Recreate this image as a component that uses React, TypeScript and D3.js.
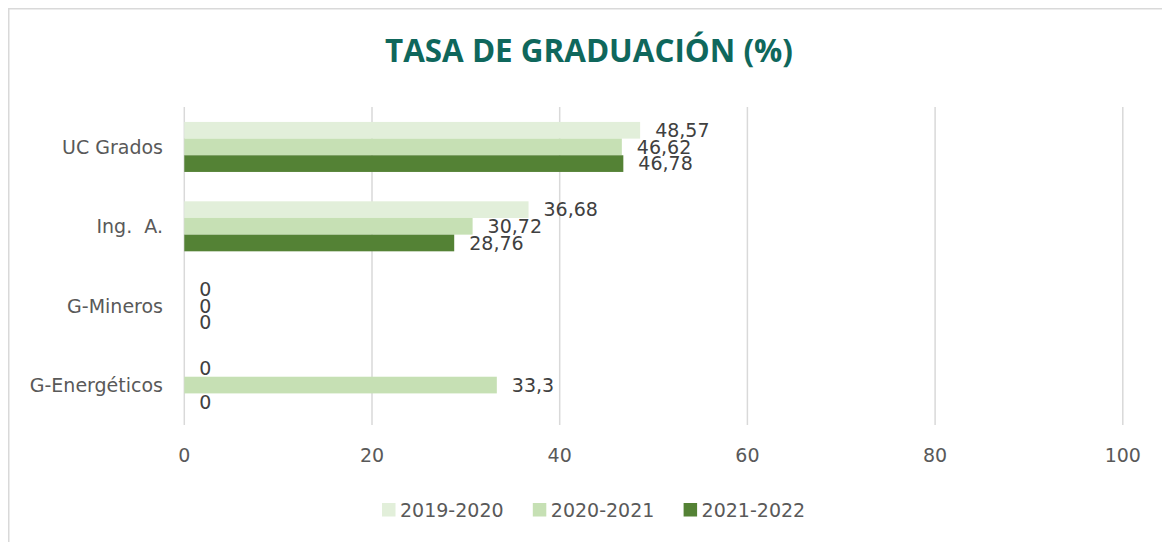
import React from "react";
import * as d3 from "d3";

const categories = ["UC Grados", "Ing.  A.", "G-Mineros", "G-Energéticos"];
const seriesNames = ["2019-2020", "2020-2021", "2021-2022"];
const values2019 = [48.57, 36.68, 0, 0];
const values2020 = [46.62, 30.72, 0, 33.3];
const values2021 = [46.78, 28.76, 0, 0];
const seriesValues = [values2019, values2020, values2021];
const seriesColors = ["#e2efda", "#c6e0b4", "#548235"];
const xTicks = [0, 20, 40, 60, 80, 100];

const W = 1162;
const H = 542;
const FONT = "'DejaVu Sans', sans-serif";

export default function App() {
  const x = d3.scaleLinear().domain([0, 100]).range([184.3, 1122.8]);
  const y = d3
    .scaleBand<string>()
    .domain(categories)
    .range([107.25, 424.75])
    .paddingInner(0.37)
    .paddingOuter(0.185);
  const ySub = d3
    .scaleBand<string>()
    .domain(seriesNames)
    .range([0, y.bandwidth()])
    .padding(0);
  const fmt = (v: number) => String(v).replace(".", ",");

  return (
    <svg
      width={W}
      height={H}
      style={{ position: "absolute", left: 0, top: 0, background: "#fff" }}
      fontFamily={FONT}
    >
      <rect x={0} y={0} width={W} height={H} fill="#fff" />
      <rect
        x={8.75}
        y={8.75}
        width={1170}
        height={560}
        fill="none"
        stroke="#d9d9d9"
        strokeWidth={1.5}
      />
      <text
        x={589}
        y={62}
        textAnchor="middle"
        fill="#0f675c"
        fontFamily="'Open Sans', sans-serif"
        fontWeight="bold"
        fontSize={32}
        textLength={408}
        lengthAdjust="spacingAndGlyphs"
      >
        TASA DE GRADUACIÓN (%)
      </text>
      {xTicks.map((t) => (
        <g key={t}>
          <line
            x1={x(t)}
            x2={x(t)}
            y1={107}
            y2={425}
            stroke="#d9d9d9"
            strokeWidth={1.5}
          />
          <text
            x={x(t)}
            y={462}
            textAnchor="middle"
            fontSize={19}
            fill="#595959"
          >
            {t}
          </text>
        </g>
      ))}
      {categories.map((c) => (
        <text
          key={c}
          x={163}
          y={(y(c) as number) + y.bandwidth() / 2}
          dy="0.36em"
          textAnchor="end"
          fontSize={19}
          fill="#595959"
          style={{ whiteSpace: "pre" }}
        >
          {c}
        </text>
      ))}
      {seriesNames.map((s, si) =>
        categories.map((c, ci) => {
          const v = seriesValues[si][ci];
          const by = (y(c) as number) + (ySub(s) as number);
          const bh = ySub.bandwidth();
          return (
            <g key={s + c}>
              {v > 0 && (
                <rect
                  x={x(0)}
                  y={by}
                  width={x(v) - x(0)}
                  height={bh}
                  fill={seriesColors[si]}
                />
              )}
              <text
                x={x(v) + 15}
                y={by + bh / 2}
                dy="0.36em"
                fontSize={19}
                fill="#404040"
              >
                {fmt(v)}
              </text>
            </g>
          );
        })
      )}
      {seriesNames.map((s, i) => (
        <g key={s} transform={`translate(${382 + i * 150.8},503)`}>
          <rect width={13.5} height={13.5} fill={seriesColors[i]} />
          <text x={18} y={6.75} dy="0.36em" fontSize={19} fill="#595959">
            {s}
          </text>
        </g>
      ))}
    </svg>
  );
}
